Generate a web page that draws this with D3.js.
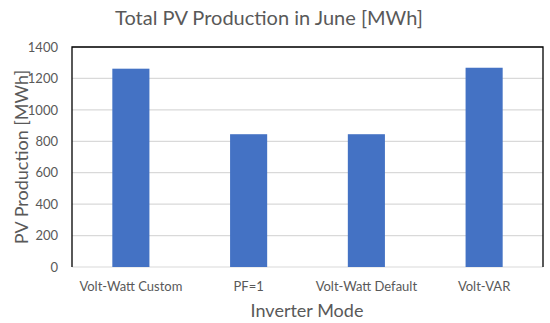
<!DOCTYPE html>
<html>
<head>
<meta charset="utf-8">
<script src="https://cdn.jsdelivr.net/npm/d3@7"></script>
<style>
  body { margin: 0; background: #fff; }
  text { font-family: Lato, "Open Sans", sans-serif; }
</style>
</head>
<body>
<div id="chart"></div>
<script>
let w = 550;
let h = 323;

let modes = ["Volt-Watt Custom", "PF=1", "Volt-Watt Default", "Volt-VAR"];
let production = [1262, 845, 845, 1268];
let yTicks = [0, 200, 400, 600, 800, 1000, 1200, 1400];

let margin = {top: 47, right: 7, bottom: 56, left: 72};

let svg = d3.select("#chart")
  .append("svg")
    .attr("width", w)
    .attr("height", h);

let x = d3.scaleBand()
  .domain(modes)
  .range([margin.left, w - margin.right])
  .paddingInner(0.685)
  .paddingOuter(0.3425);

let y = d3.scaleLinear()
  .domain([0, 1400])
  .range([h - margin.bottom, margin.top]);

// gridlines
svg.append("g")
  .selectAll("line")
  .data(yTicks)
  .enter().append("line")
    .attr("x1", margin.left)
    .attr("x2", w - margin.right)
    .attr("y1", d => y(d))
    .attr("y2", d => y(d))
    .attr("stroke", "#d9d9d9")
    .attr("stroke-width", 1.2);

// bars
svg.append("g")
  .selectAll("rect")
  .data(modes)
  .enter().append("rect")
    .attr("x", d => x(d))
    .attr("width", x.bandwidth())
    .attr("y", (d, i) => y(production[i]))
    .attr("height", (d, i) => y(0) - y(production[i]))
    .attr("fill", "#4472c4");

// frame: black top/left/right
svg.append("path")
  .attr("d", `M${margin.left},${h - margin.bottom}V${margin.top}H${w - margin.right}V${h - margin.bottom}`)
  .attr("fill", "none")
  .attr("stroke", "#000")
  .attr("stroke-width", 1.3);

// y axis labels
let yAxis = d3.axisLeft(y).tickValues(yTicks).tickFormat(d3.format("d")).tickSize(0).tickPadding(14);
let yg = svg.append("g")
  .attr("transform", `translate(${margin.left},0)`)
  .call(yAxis);
yg.select(".domain").remove();
yg.selectAll("text")
  .attr("fill", "#595959")
  .style("font-size", "13px");

// x axis labels
let xAxis = d3.axisBottom(x).tickSize(0).tickPadding(15);
let xg = svg.append("g")
  .attr("transform", `translate(0,${h - margin.bottom})`)
  .call(xAxis);
xg.select(".domain").remove();
xg.selectAll("text")
  .attr("fill", "#595959")
  .style("font-size", "13px");

// titles
svg.append("text")
  .attr("x", 269)
  .attr("y", 25)
  .attr("text-anchor", "middle")
  .attr("fill", "#595959")
  .style("font-size", "20px")
  .text("Total PV Production in June [MWh]");

svg.append("text")
  .attr("x", 307)
  .attr("y", 317)
  .attr("text-anchor", "middle")
  .attr("fill", "#595959")
  .style("font-size", "18px")
  .text("Inverter Mode");

svg.append("text")
  .attr("transform", `translate(28,${(margin.top + h - margin.bottom) / 2}) rotate(-90)`)
  .attr("text-anchor", "middle")
  .attr("fill", "#595959")
  .style("font-size", "18px")
  .text("PV Production [MWh]");
</script>
</body>
</html>
